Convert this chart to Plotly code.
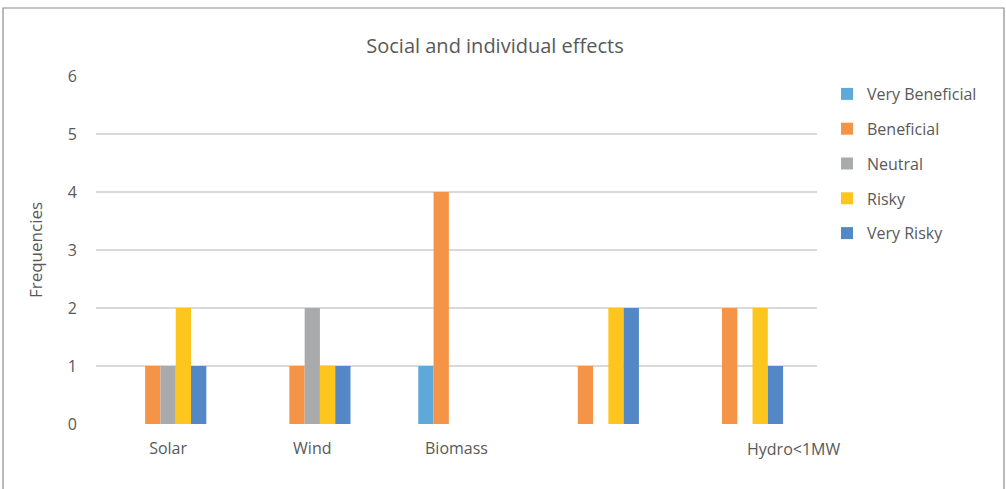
import plotly.graph_objects as go

categories = ["Solar", "Wind", "Biomass", "", "Hydro<1MW"]
series_names = ["Very Beneficial", "Beneficial", "Neutral", "Risky", "Very Risky"]
very_beneficial = [0, 0, 1, 0, 0]
beneficial = [1, 1, 4, 1, 2]
neutral = [1, 2, 0, 0, 0]
risky = [2, 1, 0, 2, 2]
very_risky = [1, 1, 0, 2, 1]
y_ticks = [0, 1, 2, 3, 4, 5, 6]

colors = ["#5FA8DA", "#F59346", "#A9AAAB", "#FDC61E", "#5487C6"]
values = [very_beneficial, beneficial, neutral, risky, very_risky]

W, H = 1006, 489
L, R, T, B = 96, W - 817, 76, H - 424

xpos = list(range(len(categories)))

fig = go.Figure()
for i, (name, vals) in enumerate(zip(series_names, values)):
    fig.add_trace(go.Bar(
        x=xpos, y=vals, name=name,
        marker=dict(color=colors[i], line=dict(width=0)),
        legendgroup=name,
    ))

# ticktext: last label shown as annotation (offset as in original)
ticktext = [c if i < 3 else "" for i, c in enumerate(categories)]

TXT = "#595959"
fig.update_layout(
    width=W, height=H,
    margin=dict(l=L, r=R, t=T, b=B),
    paper_bgcolor="white", plot_bgcolor="white",
    barmode="group", bargap=0.47, bargroupgap=0,
    font=dict(family="Open Sans", color=TXT, size=16),
    title=dict(text="Social and individual effects", x=495 / W, xanchor="center",
               y=1 - 46 / H, yanchor="middle", yref="container",
               font=dict(size=20, color=TXT)),
    xaxis=dict(range=[-0.5, 4.5], tickvals=xpos, ticktext=ticktext, showgrid=False,
               zeroline=False, showline=False, ticks="", ticklabelstandoff=13,
               tickfont=dict(size=16, color=TXT)),
    yaxis=dict(range=[0, 6], tickvals=y_ticks, showgrid=True, gridcolor="#D9D9D9",
               gridwidth=1.5, zeroline=False, showline=False, ticks="",
               ticklabelstandoff=18, tickfont=dict(size=16, color=TXT),
               title=dict(text="Frequencies", font=dict(size=17, color=TXT), standoff=20)),
    legend=dict(x=(827 - L) / (W - L - R), xanchor="left", y=(424 - 77) / 348, yanchor="top",
                tracegroupgap=11, font=dict(size=16, color=TXT),
                bgcolor="rgba(0,0,0,0)", itemwidth=30, traceorder="grouped"),
    showlegend=True,
)

fig.add_annotation(text=categories[4], x=4, y=0, xref="x", yref="y", xshift=49,
                   yshift=-25, showarrow=False, yanchor="middle",
                   font=dict(size=16, color=TXT))

pw, ph = W - L - R, H - T - B
fig.add_shape(type="rect", xref="paper", yref="paper",
              x0=(3 - L) / pw, x1=(1004 - L) / pw,
              y0=(424 - 520) / ph, y1=(424 - 8) / ph,
              line=dict(color="#8C8C8C", width=1.2), fillcolor="rgba(0,0,0,0)", layer="below")

fig.write_html("out.html", config={"displayModeBar": False},
               post_script="document.body.style.margin='0';")
